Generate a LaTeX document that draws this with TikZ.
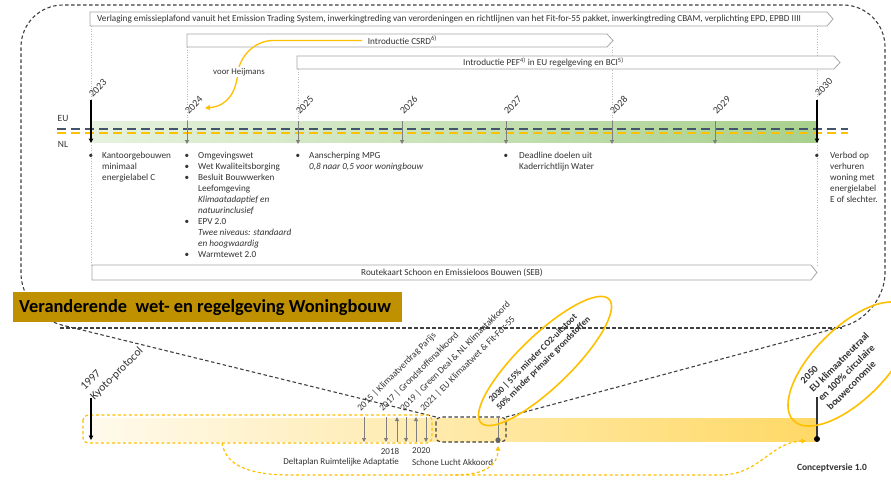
\documentclass[tikz,border=0pt]{standalone}
\usepackage{fontspec}
\setmainfont{Carlito}
\usetikzlibrary{arrows.meta}
\definecolor{ygold}{HTML}{FFC000}
\definecolor{slate}{HTML}{44546A}
\definecolor{txt}{HTML}{333333}
\definecolor{barline}{HTML}{A6A6A6}
\definecolor{garrow}{HTML}{7F7F7F}
\definecolor{bannerc}{HTML}{BF9000}
\definecolor{outlc}{HTML}{404040}
\definecolor{greenL}{HTML}{E6F2DE}
\definecolor{greenR}{HTML}{A8D08D}
\definecolor{yelL}{HTML}{FFFAEC}
\definecolor{yelR}{HTML}{FFD966}
\newcommand{\arrowbar}[4]{\draw[barshape] (#1,#2) -- ({#3-6},#2) -- (#3,{(#2+#4)/2}) -- ({#3-6},#4) -- (#1,#4) -- cycle;}
\tikzset{
 outl/.style={draw=outlc, line width=1.1pt, dash pattern=on 3.5pt off 2.5pt},
 barshape/.style={draw=barline, line width=0.8pt, fill=white},
 bartxt/.style={font=\fontsize{9.2}{11}\selectfont, text=txt, inner sep=0pt},
 yeartxt/.style={font=\fontsize{10}{12}\selectfont, text=txt, rotate=45, anchor=south west, inner sep=0pt},
 bultxt/.style={font=\fontsize{9.2}{11}\selectfont, text=txt, align=left, anchor=base west, inner sep=0pt},
 bulmark/.style={font=\fontsize{9.2}{11}\selectfont, text=txt, anchor=base, inner sep=0pt},
 guide/.style={draw=gray!55, dotted, line width=0.6pt},
 garr/.style={draw=garrow, line width=1pt, -{Triangle[width=4pt,length=4pt]}},
 barr/.style={draw=black, line width=1.2pt, -{Triangle[width=4.5pt,length=4.5pt]}},
 ydash/.style={draw=ygold, line width=1.2pt, dash pattern=on 3pt off 2.5pt},
 ring/.style={draw=ygold, line width=1.6pt},
 difftxt/.style={font=\fontsize{9.3}{11}\selectfont, text=txt, rotate=45, anchor=south west, inner sep=0pt},
 smalltxt/.style={font=\fontsize{9}{11}\selectfont, text=txt, inner sep=0pt},
}
\begin{document}
\begin{tikzpicture}[x=1pt,y=-1pt]
\useasboundingbox (0,0) rectangle (891,480);
\fill[white] (0,0) rectangle (891,480);

% big dashed callout outline
\coordinate (bxTL) at (436,417);
\coordinate (bxTR) at (506,417);
\coordinate (bxBR) at (506,442);
\coordinate (oBL) at (21,315);
\coordinate (oTL) at (21,5);
\coordinate (oTR) at (885,5);
\coordinate (oBR) at (885,315);
\draw[outl, rounded corners=42pt] (bxTR) -- (oBR) -- (oTR) -- (oTL) -- (oBL) -- (bxTL);
\coordinate (hl1) at (60,328);
\coordinate (hl2) at (842,328);
\draw[outl] (hl1) -- (hl2);

% title banner
\fill[bannerc] (13,292) rectangle (402,322);
\node[anchor=west, font=\bfseries\fontsize{18.4}{21}\selectfont, text=black, inner sep=0pt] (title) at (19,307.5) {Veranderende\ \ wet- en regelgeving Woningbouw};

% guides
\coordinate (g23a) at (91,26); \coordinate (g23b) at (91,100);
\coordinate (g23c) at (91,145); \coordinate (g23d) at (91,265);
\coordinate (g24a) at (187,47); \coordinate (g24b) at (187,121);
\coordinate (g25a) at (298,69); \coordinate (g25b) at (298,121);
\coordinate (g28a) at (612,47); \coordinate (g28b) at (612,121);
\coordinate (g30a) at (817,26); \coordinate (g30b) at (817,100);
\coordinate (g30c) at (817,145); \coordinate (g30d) at (817,265);
\draw[guide] (g23a) -- (g23b);
\draw[guide] (g23c) -- (g23d);
\draw[guide] (g24a) -- (g24b);
\draw[guide] (g25a) -- (g25b);
\draw[guide] (g28a) -- (g28b);
\draw[guide] (g30a) -- (g30b);
\draw[guide] (g30c) -- (g30d);

% bars
\arrowbar{90}{12}{833}{26}
\arrowbar{187}{34}{613}{47}
\arrowbar{297}{56}{840}{69}
\arrowbar{92}{265}{817}{280}
\node[bartxt, anchor=west] (b1) at (97,19.5) {Verlaging emissieplafond vanuit het Emission Trading System, inwerkingtreding van verordeningen en richtlijnen van het Fit-for-55 pakket, inwerkingtreding CBAM, verplichting EPD, EPBD IIII};
\node[bartxt, anchor=east] (b2) at (437,40.5) {Introductie CSRD\textsuperscript{6)}};
\node[bartxt, anchor=west] (b3) at (463,62.5) {Introductie PEF\textsuperscript{4)} in EU regelgeving en BCI\textsuperscript{5)}};
\node[bartxt] (b4) at (452,272.5) {Routekaart Schoon en Emissieloos Bouwen (SEB)};

% yellow arrow voor Heijmans
\coordinate (ha) at (362,40.5);
\coordinate (hb) at (273,40.5);
\coordinate (hc) at (205,108);
\draw[draw=ygold, line width=1.3pt, -{Triangle[width=5pt,length=5pt]}] (ha) -- (hb) .. controls (255,40.5) and (240,56) .. (238,72) .. controls (236,92) and (228,106) .. (hc);
\node[fill=white, font=\fontsize{8.8}{10}\selectfont, text=txt, inner sep=1.5pt] (heij) at (239,72) {voor Heijmans};

% green band and EU/NL lines
\shade[left color=greenL, right color=greenR] (92,121) rectangle (818,142);
\coordinate (euL) at (57,129); \coordinate (euR) at (848,129);
\coordinate (nlL) at (57,132.8); \coordinate (nlR) at (848,132.8);
\draw[draw=slate, line width=2.4pt, dash pattern=on 9pt off 5pt] (euL) -- (euR);
\draw[draw=ygold, line width=2.4pt, dash pattern=on 9pt off 5pt] (nlL) -- (nlR);
\node[font=\fontsize{9.5}{11}\selectfont, text=txt, inner sep=0pt] (eu) at (63,118) {EU};
\node[font=\fontsize{9.5}{11}\selectfont, text=txt, inner sep=0pt] (nl) at (63,144) {NL};

% year arrows
\coordinate (a23t) at (91,100); \coordinate (a23b) at (91,143);
\coordinate (a30t) at (817,100); \coordinate (a30b) at (817,143);
\draw[barr] (a23t) -- (a23b);
\draw[barr] (a30t) -- (a30b);
\foreach \n/\x in {24/187,25/298,26/402,27/506,28/612,29/715}{
  \coordinate (a\n t) at (\x,121); \coordinate (a\n b) at (\x,144);
  \draw[garr] (a\n t) -- (a\n b);
}
\node[yeartxt] (l23) at (93,98) {2023};
\node[yeartxt] (l24) at (189,115) {2024};
\node[yeartxt] (l25) at (300,115) {2025};
\node[yeartxt] (l26) at (404,115) {2026};
\node[yeartxt] (l27) at (508,115) {2027};
\node[yeartxt] (l28) at (614,115) {2028};
\node[yeartxt] (l29) at (717,115) {2029};
\node[yeartxt] (l30) at (819,97) {2030};

% bullets (base anchor = baseline of last line)
\node[bulmark] (m23) at (91,158) {•};
\node[bultxt] (c23) at (102,180) {Kantoorgebouwen\\minimaal\\energielabel C};
\node[bulmark] (m24a) at (187,158) {•};
\node[bulmark] (m24b) at (187,169) {•};
\node[bulmark] (m24c) at (187,180) {•};
\node[bulmark] (m24d) at (187,224) {•};
\node[bulmark] (m24e) at (187,257) {•};
\node[bultxt] (c24) at (198,257) {Omgevingswet\\Wet Kwaliteitsborging\\Besluit Bouwwerken\\Leefomgeving\\\textit{Klimaatadaptief en}\\\textit{natuurinclusief}\\EPV 2.0\\\textit{Twee niveaus: standaard}\\\textit{en hoogwaardig}\\Warmtewet 2.0};
\node[bulmark] (m25) at (298,158) {•};
\node[bultxt] (c25) at (309,169) {Aanscherping MPG\\\textit{0,8 naar 0,5 voor woningbouw}};
\node[bulmark] (m27) at (506,158) {•};
\node[bultxt] (c27) at (519,169) {Deadline doelen uit\\Kaderrichtlijn Water};
\node[bulmark] (m30) at (817,158) {•};
\node[bultxt] (c30) at (830,202) {Verbod op\\verhuren\\woning met\\energielabel\\E of slechter.};

% bottom timeline bar
\shade[left color=yelL, right color=yelR] (90,418) rectangle (817,441);
\coordinate (ybTL) at (83,415); \coordinate (ybBR) at (432,443);
\draw[ydash, rounded corners=5pt] (ybTL) rectangle (ybBR);
\draw[outl, rounded corners=5pt] (bxTL) rectangle (bxBR);

% small arrows
\foreach \n/\x in {15/364,17/386,19/406,21/426}{
  \coordinate (s\n t) at (\x,417); \coordinate (s\n b) at (\x,442);
  \draw[garr] (s\n t) -- (s\n b);
}
\foreach \n/\x in {18/397,20/416}{
  \coordinate (s\n t) at (\x,417); \coordinate (s\n b) at (\x,442);
  \draw[garr] (s\n b) -- (s\n t);
}
\coordinate (m30t) at (498,417); \coordinate (m30b) at (498,440);
\draw[draw=garrow, line width=1pt] (m30t) -- (m30b);
\fill[garrow!80!black] (m30b) circle (2.6pt);
\coordinate (m50t) at (817,397); \coordinate (m50b) at (817,439);
\draw[draw=black!80, line width=1.2pt] (m50t) -- (m50b);
\fill[black] (m50b) circle (3pt);
\coordinate (k97t) at (91,398); \coordinate (k97b) at (91,440);
\draw[barr] (k97t) -- (k97b);

% rotated labels
\node[rotate=45, anchor=south west, align=left, font=\fontsize{11.5}{14}\selectfont, text=txt, inner sep=0pt] (kyoto) at (96,402) {1997\\Kyoto-protocol};
\node[difftxt] (d15) at (362,413) {2015 | Klimaatverdrag Parijs};
\node[difftxt] (d17) at (384,413) {2017 | Grondstoffenakkoord};
\node[difftxt] (d19) at (405,413) {2019 | Green Deal \& NL Klimaatakkoord};
\node[difftxt] (d21) at (425,413) {2021 | EU Klimaatwet \& Fit-For-55};
\node[rotate=45, anchor=south west, align=left, font=\bfseries\fontsize{9}{11}\selectfont, text=txt, inner sep=0pt] (t30) at (501,412) {2030 | 55\% minder CO2-uitstoot\\50\% minder primaire grondstoffen};
\node[rotate=45, anchor=south west, align=left, font=\bfseries\fontsize{10}{12.5}\selectfont, text=txt, inner sep=0pt] (t50) at (831,411) {2050\\EU klimaatneutraal\\en 100\% circulaire\\bouweconomie};
\draw[ring, rotate around={44:(545,361)}] (545,361) ellipse [x radius=89, y radius=26];
\draw[ring, rotate around={45:(850,364)}] (850,364) ellipse [x radius=80, y radius=36];

% bottom labels
\node[smalltxt] (y18) at (390,451) {2018};
\node[smalltxt, anchor=east] (delta) at (399,462) {Deltaplan Ruimtelijke Adaptatie};
\node[smalltxt, anchor=west] (y20) at (412,451) {2020};
\node[smalltxt, anchor=west] (lucht) at (412,462) {Schone Lucht Akkoord};
\node[font=\bfseries\fontsize{9.5}{11}\selectfont, text=txt, inner sep=0pt] (concept) at (832,468) {Conceptversie 1.0};

% yellow dashed connectors
\coordinate (yd0) at (222,443); \coordinate (yd1) at (290,475);
\coordinate (yd2) at (720,475); \coordinate (yd3) at (806,441);
\coordinate (yb0) at (455,475); \coordinate (yb1) at (498,446);
\draw[ydash, -{Triangle[width=4.5pt,length=4.5pt]}] (yd0) .. controls (226,468) and (255,475) .. (yd1) -- (yd2) .. controls (760,475) and (770,442) .. (yd3);
\draw[ydash, -{Triangle[width=4.5pt,length=4.5pt]}] (yb0) .. controls (485,475) and (498,465) .. (yb1);
\end{tikzpicture}
\end{document}
